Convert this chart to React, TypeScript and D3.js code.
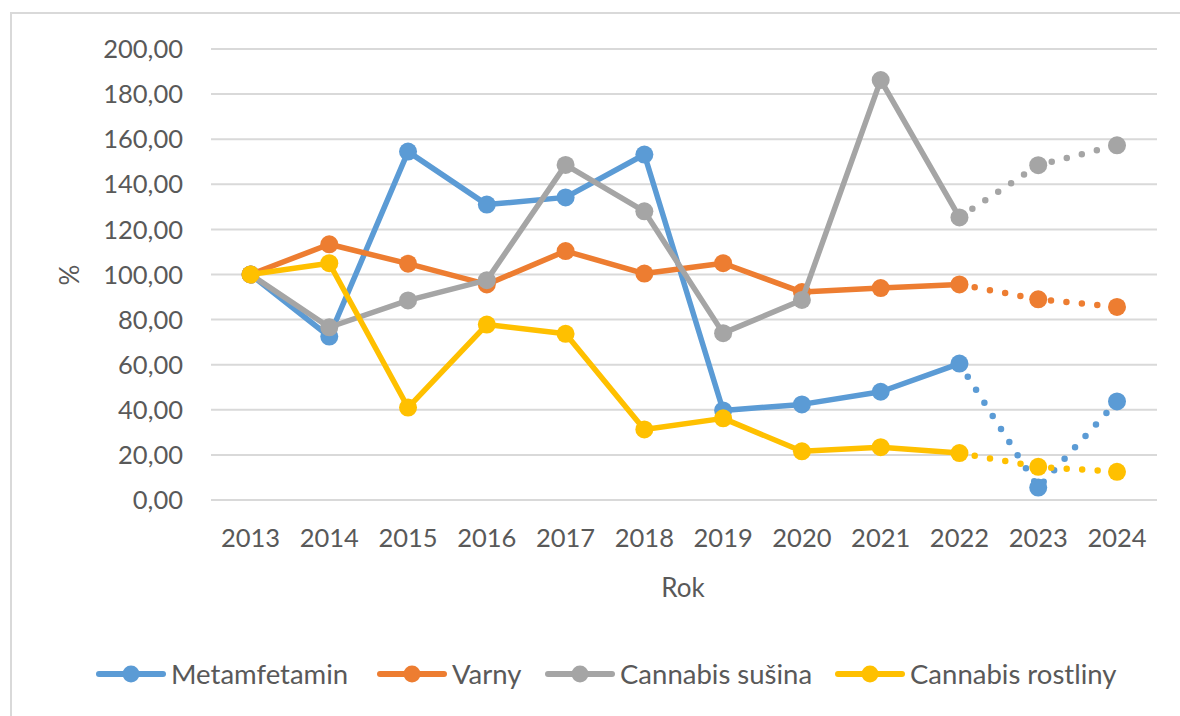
import React, { useEffect, useRef } from "react";
import * as d3 from "d3";

const years = ["2013","2014","2015","2016","2017","2018","2019","2020","2021","2022","2023","2024"];
const yTicks = [0, 20, 40, 60, 80, 100, 120, 140, 160, 180, 200];
const metamfetamin = [100, 72.5, 154.5, 131, 134.2, 153.2, 39.7, 42.4, 48, 60.5, 5.5, 43.7];
const varny = [100, 113.4, 104.8, 95.6, 110.4, 100.4, 105, 92.2, 94, 95.6, 89, 85.6];
const susina = [100, 76.6, 88.5, 97.5, 148.6, 128, 74, 88.7, 186.2, 125.3, 148.5, 157.3];
const rostliny = [100, 105, 41, 77.8, 73.7, 31.3, 36.2, 21.6, 23.4, 20.8, 14.7, 12.5];
const seriesNames = ["Metamfetamin", "Varny", "Cannabis sušina", "Cannabis rostliny"];
const seriesColors = ["#5B9BD5", "#ED7D31", "#A5A5A5", "#FFC000"];
const solidUntil = "2022";

const FONT = "Lato, 'Open Sans', sans-serif";
const TXT = "#595959";

export default function App() {
  const ref = useRef<SVGSVGElement>(null);
  useEffect(() => {
    const svg = d3.select(ref.current);
    svg.selectAll("*").remove();
    const data = [metamfetamin, varny, susina, rostliny];

    // outer border (only top and left visible)
    svg.append("rect").attr("x", 11).attr("y", 13).attr("width", 1200).attr("height", 760)
      .attr("fill", "white").attr("stroke", "#D9D9D9").attr("stroke-width", 2);

    const x = d3.scalePoint<string>().domain(years).range([250.5, 1117]);
    const y = d3.scaleLinear().domain([0, 200]).range([500, 49]);

    const g = svg.append("g");
    g.selectAll("line.grid").data(yTicks).join("line")
      .attr("x1", 211).attr("x2", 1157)
      .attr("y1", d => y(d)).attr("y2", d => y(d))
      .attr("stroke", "#D9D9D9").attr("stroke-width", 2);

    g.selectAll("text.yl").data(yTicks).join("text")
      .attr("x", 183).attr("y", d => y(d)).attr("dy", "0.36em")
      .attr("text-anchor", "end").attr("font-family", FONT).attr("font-size", 25.5)
      .attr("fill", TXT).text(d => d3.format(".2f")(d).replace(".", ","));

    g.selectAll("text.xl").data(years).join("text")
      .attr("x", d => x(d)!).attr("y", 547)
      .attr("text-anchor", "middle").attr("font-family", FONT).attr("font-size", 25.5)
      .attr("fill", TXT).text(d => d);

    g.append("text").attr("x", 683).attr("y", 597).attr("text-anchor", "middle")
      .attr("font-family", FONT).attr("font-size", 26).attr("fill", TXT).text("Rok");
    g.append("text").attr("transform", "translate(79,275) rotate(-90)").attr("text-anchor", "middle")
      .attr("font-family", FONT).attr("font-size", 26).attr("fill", TXT).text("%");

    const line = d3.line<[string, number]>().x(d => x(d[0])!).y(d => y(d[1]));
    const idx = years.indexOf(solidUntil);

    data.forEach((vals, i) => {
      const pts: [string, number][] = years.map((yr, j) => [yr, vals[j]]);
      const col = seriesColors[i];
      const sg = svg.append("g");
      sg.append("path").attr("d", line(pts.slice(0, idx + 1)))
        .attr("fill", "none").attr("stroke", col).attr("stroke-width", 5.5)
        .attr("stroke-linejoin", "round").attr("stroke-linecap", "round");
      sg.append("path").attr("d", line(pts.slice(idx)))
        .attr("fill", "none").attr("stroke", col).attr("stroke-width", 6.5)
        .attr("stroke-dasharray", "0 15.5").attr("stroke-linecap", "round");
      sg.selectAll("circle").data(pts).join("circle")
        .attr("cx", d => x(d[0])!).attr("cy", d => y(d[1])).attr("r", 9)
        .attr("fill", col);
    });

    // legend
    const legendX = [96, 377, 545, 835];
    const ly = 674;
    seriesNames.forEach((name, i) => {
      const lg = svg.append("g");
      const x0 = legendX[i];
      lg.append("line").attr("x1", x0 + 3).attr("x2", x0 + 67).attr("y1", ly).attr("y2", ly)
        .attr("stroke", seriesColors[i]).attr("stroke-width", 6).attr("stroke-linecap", "round");
      lg.append("circle").attr("cx", x0 + 35).attr("cy", ly).attr("r", 8.5).attr("fill", seriesColors[i]);
      lg.append("text").attr("x", x0 + 75).attr("y", ly).attr("dy", "0.36em")
        .attr("font-family", FONT).attr("font-size", 27.5).attr("fill", TXT).text(name);
    });
  }, []);
  return (
    <svg ref={ref} width={1180} height={716}
      style={{ position: "absolute", left: 0, top: 0, background: "white" }} />
  );
}
